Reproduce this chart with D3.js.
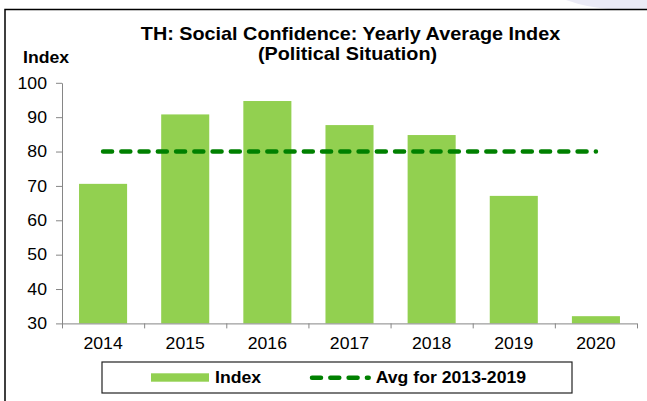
<!DOCTYPE html>
<html>
<head>
<meta charset="utf-8">
<script src="https://cdn.jsdelivr.net/npm/d3@7"></script>
<style>
  body { margin: 0; background: #fff; }
  svg { display: block; font-family: 'Liberation Sans', Arial, sans-serif; }
</style>
</head>
<body>
<svg></svg>
<script>
// Data
const years = ['2014', '2015', '2016', '2017', '2018', '2019', '2020']
const indexValues = [70.6, 90.8, 94.7, 87.7, 84.8, 67.1, 32.1]
const avgValue = 80
const yTicks = [30, 40, 50, 60, 70, 80, 90, 100]
const titleLines = ['TH: Social Confidence: Yearly Average Index', '(Political Situation)']
const legendLabels = ['Index', 'Avg for 2013-2019']

// Initialization
const width = 647
const height = 401
const barColor = '#92d050'
const avgColor = '#008000'
const axisColor = '#868686'

const svg = d3.select('svg').attr('width', width).attr('height', height)

const x = d3
  .scaleBand()
  .domain(years)
  .range([62, 637])
  .paddingInner(0.415)
  .paddingOuter(0.2075)
const y = d3.scaleLinear().domain([30, 100]).range([323.4, 82.8])

// text helper, stretched horizontally around its anchor
// (text in the reference is a bit wider than it is tall)
const label = (g, px, py, str, size, weight, anchor, stretch = 1.07) =>
  g
    .append('text')
    .attr('transform', `translate(${px},${py}) scale(${stretch},1)`)
    .attr('font-size', size)
    .attr('font-weight', weight)
    .attr('text-anchor', anchor)
    .attr('fill', '#000')
    .text(str)

// Corner decoration + frame
svg
  .append('path')
  .attr('d', 'M566,0 Q588,8 614,9.5 L647,9.5 L647,0 Z')
  .attr('fill', '#ebebf6')
svg
  .append('rect')
  .attr('x', 5)
  .attr('y', 9.5)
  .attr('width', width + 20)
  .attr('height', height + 20)
  .attr('fill', '#fff')
  .attr('stroke', '#000')
  .attr('stroke-width', 1.5)

// Title
label(svg, 350.5, 40, titleLines[0], 18, 'bold', 'middle', 1.1)
label(svg, 347.5, 60.2, titleLines[1], 18, 'bold', 'middle', 1.1)
label(svg, 23, 62.7, 'Index', 16.5, 'bold', 'start')

// Bars
svg
  .append('g')
  .selectAll('rect')
  .data(years.map((yr, i) => ({ yr, v: indexValues[i] })))
  .enter()
  .append('rect')
  .attr('x', (d) => x(d.yr))
  .attr('y', (d) => y(d.v))
  .attr('width', x.bandwidth())
  .attr('height', (d) => y(30) - y(d.v))
  .attr('fill', barColor)

// Y axis
const yAxis = svg
  .append('g')
  .attr('transform', 'translate(62,0)')
  .call(d3.axisLeft(y).tickValues(yTicks).tickSize(6).tickSizeOuter(0))
yAxis.selectAll('path, line').attr('stroke', axisColor)
yAxis
  .selectAll('text')
  .attr('font-size', 16.5)
  .attr('font-family', 'Liberation Sans, Arial, sans-serif')
  .attr('fill', '#000')
  .attr('x', -15 / 1.07)
  .attr('transform', 'scale(1.07,1)')

// X axis: ticks on category boundaries, labels centred
const pad = x.step() * x.paddingOuter()
const bounds = years.map((yr) => x(yr) - pad).concat([637])
const xAxis = svg.append('g')
xAxis
  .append('line')
  .attr('x1', 62)
  .attr('x2', 637)
  .attr('y1', y(30) + 0.5)
  .attr('y2', y(30) + 0.5)
  .attr('stroke', axisColor)
xAxis
  .selectAll('.tick')
  .data(bounds)
  .enter()
  .append('line')
  .attr('class', 'tick')
  .attr('x1', (d) => d + 0.5)
  .attr('x2', (d) => d + 0.5)
  .attr('y1', y(30))
  .attr('y2', y(30) + 5)
  .attr('stroke', axisColor)
years.forEach((yr) => label(xAxis, x(yr) + x.bandwidth() / 2, 349, yr, 16.5, 'normal', 'middle'))

// Average line, ends on a dot like the reference
svg
  .append('line')
  .attr('x1', x(years[0]) + x.bandwidth() / 2)
  .attr('x2', x(years[years.length - 1]) + x.bandwidth() / 2)
  .attr('y1', y(avgValue))
  .attr('y2', y(avgValue))
  .attr('stroke', avgColor)
  .attr('stroke-width', 4.5)
  .attr('stroke-linecap', 'round')
  .attr('stroke-dasharray', '9,9.25')

// Legend
const legend = svg.append('g')
legend
  .append('rect')
  .attr('x', 102)
  .attr('y', 362)
  .attr('width', 470)
  .attr('height', 31)
  .attr('fill', '#fff')
  .attr('stroke', '#222')
  .attr('stroke-width', 1.2)
legend
  .append('rect')
  .attr('x', 151)
  .attr('y', 373.3)
  .attr('width', 58)
  .attr('height', 8.4)
  .attr('fill', barColor)
label(legend, 215, 383.3, legendLabels[0], 16.5, 'bold', 'start')
legend
  .append('line')
  .attr('x1', 312)
  .attr('x2', 368.7)
  .attr('y1', 377.7)
  .attr('y2', 377.7)
  .attr('stroke', avgColor)
  .attr('stroke-width', 4.5)
  .attr('stroke-linecap', 'round')
  .attr('stroke-dasharray', '9,9.3')
label(legend, 375.7, 383.3, legendLabels[1], 16.5, 'bold', 'start')
</script>
</body>
</html>
